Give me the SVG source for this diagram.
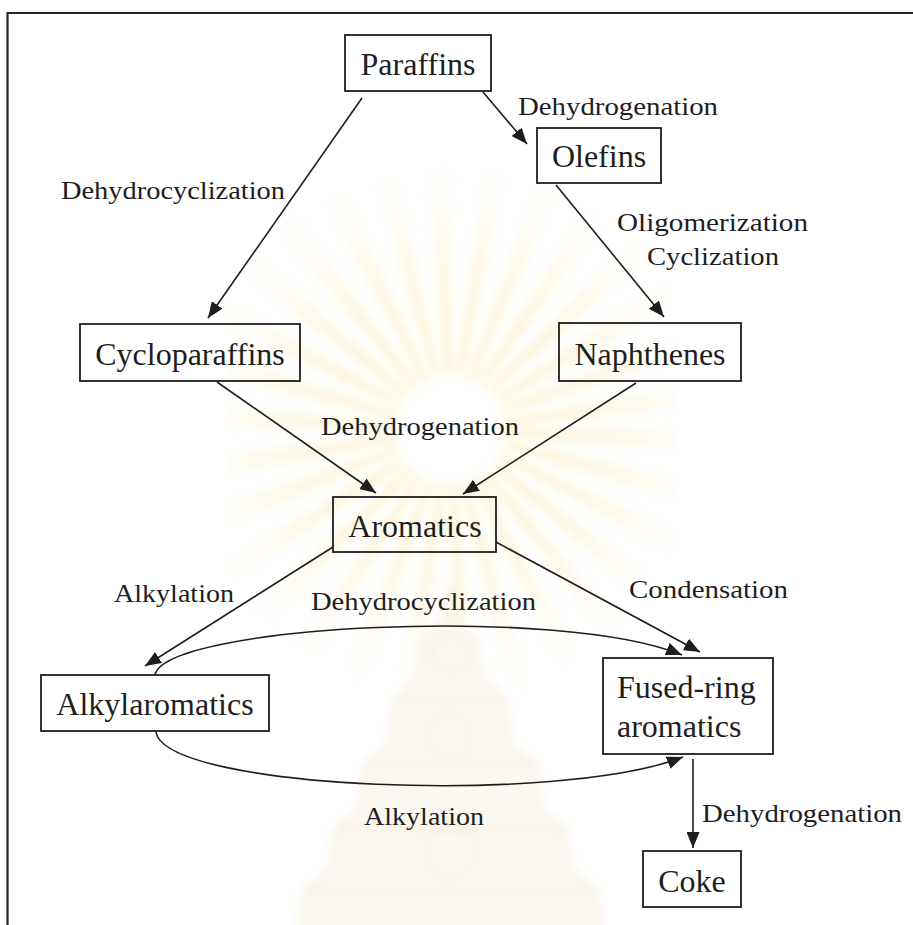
<svg xmlns="http://www.w3.org/2000/svg" width="913" height="925" viewBox="0 0 913 925">
  <defs>
    <style>
      .box{fill:none;stroke:#1e1e1e;stroke-width:1.8}
      .node{font-family:"Liberation Serif","Times New Roman",serif;font-size:32px;fill:#1e1e1e}
      .lbl{font-family:"Liberation Serif","Times New Roman",serif;font-size:26px;fill:#1e1e1e}
      .edge{fill:none;stroke:#1e1e1e;stroke-width:1.6;marker-end:url(#head)}
      .frame{fill:none;stroke:#262626;stroke-width:2.2}
    </style>
    <marker id="head" markerUnits="userSpaceOnUse" markerWidth="17" markerHeight="13" refX="16" refY="6.5" orient="auto">
      <path d="M0,0 L16,6.5 L0,13 z" fill="#1e1e1e"/>
    </marker>
    <radialGradient id="rayFade" gradientUnits="userSpaceOnUse" cx="450" cy="430" r="280">
      <stop offset="0.2" stop-color="#f4dc88" stop-opacity="0.5"/>
      <stop offset="0.6" stop-color="#f6e2a4" stop-opacity="0.28"/>
      <stop offset="1" stop-color="#f8ecc8" stop-opacity="0"/>
    </radialGradient>
    <filter id="soft" x="-20%" y="-20%" width="140%" height="140%">
      <feGaussianBlur stdDeviation="5"/>
    </filter>
  </defs>

  <rect width="913" height="925" fill="#ffffff"/>

  <!-- faint emblem behind the chart -->
  <g id="watermark" filter="url(#soft)">
    <circle cx="450" cy="430" r="160" fill="none" stroke="url(#rayFade)" stroke-width="210" stroke-dasharray="14 19.66"/>
    <path d="M450,585 L457,620 L475,640 L483,680 L505,700 L510,745 L535,765 L540,810 L565,830 L570,870 L595,890 L600,925 L300,925 L305,890 L330,870 L335,830 L360,810 L365,765 L390,745 L395,700 L417,680 L425,640 L443,620 Z"
          fill="#fbf8f1" stroke="#f3e6d6" stroke-width="2.5"/>
    <g fill="none" stroke="#f3e6d6" stroke-width="2.5">
      <path d="M395,700 H505 M365,765 H535 M335,830 H565 M305,890 H595"/>
      <circle cx="450" cy="655" r="18"/>
      <circle cx="450" cy="735" r="22"/>
      <circle cx="450" cy="850" r="26"/>
    </g>
  </g>

  <!-- page frame -->
  <path class="frame" d="M7.5,925 V13 H913"/>

  <g id="connectors">
    <path class="edge" d="M483,92 L527,144"/>
    <path class="edge" d="M362,98 L208,318"/>
    <path class="edge" d="M556,185 L664,317"/>
    <path class="edge" d="M217,382 L376,493"/>
    <path class="edge" d="M636,383 L463,494"/>
    <path class="edge" d="M333,547 L145,666"/>
    <path class="edge" d="M496,542 L700,652"/>
    <path class="edge" d="M155,675 C165,625 560,605 682,655"/>
    <path class="edge" d="M156,732 C165,790 560,805 683,757"/>
    <path class="edge" d="M693,759 L693,848"/>
  </g>

  <g id="edge-labels" class="lbl">
    <text x="518" y="115" textLength="200" lengthAdjust="spacingAndGlyphs">Dehydrogenation</text>
    <text x="61" y="199" textLength="224" lengthAdjust="spacingAndGlyphs">Dehydrocyclization</text>
    <text x="617" y="231" textLength="191" lengthAdjust="spacingAndGlyphs">Oligomerization</text>
    <text x="647" y="265" textLength="132" lengthAdjust="spacingAndGlyphs">Cyclization</text>
    <text x="321" y="435" textLength="198" lengthAdjust="spacingAndGlyphs">Dehydrogenation</text>
    <text x="114" y="602" textLength="120" lengthAdjust="spacingAndGlyphs">Alkylation</text>
    <text x="311" y="610" textLength="225" lengthAdjust="spacingAndGlyphs">Dehydrocyclization</text>
    <text x="629" y="598" textLength="159" lengthAdjust="spacingAndGlyphs">Condensation</text>
    <text x="702" y="822" textLength="200" lengthAdjust="spacingAndGlyphs">Dehydrogenation</text>
    <text x="364" y="825" textLength="120" lengthAdjust="spacingAndGlyphs">Alkylation</text>
  </g>

  <g id="paraffins">
    <rect class="box" x="345" y="35" width="146" height="56"/>
    <text class="node" x="418" y="75" text-anchor="middle">Paraffins</text>
  </g>
  <g id="olefins">
    <rect class="box" x="537" y="128" width="124" height="55"/>
    <text class="node" x="599" y="167" text-anchor="middle">Olefins</text>
  </g>
  <g id="cycloparaffins">
    <rect class="box" x="80" y="324" width="220" height="57"/>
    <text class="node" x="190" y="365" text-anchor="middle">Cycloparaffins</text>
  </g>
  <g id="naphthenes">
    <rect class="box" x="559" y="323" width="182" height="58"/>
    <text class="node" x="650" y="365" text-anchor="middle">Naphthenes</text>
  </g>
  <g id="aromatics">
    <rect class="box" x="333" y="497" width="163" height="55"/>
    <text class="node" x="415" y="537" text-anchor="middle">Aromatics</text>
  </g>
  <g id="alkylaromatics">
    <rect class="box" x="41" y="675" width="228" height="56"/>
    <text class="node" x="155" y="715" text-anchor="middle">Alkylaromatics</text>
  </g>
  <g id="fused-ring-aromatics">
    <rect class="box" x="603" y="658" width="170" height="96"/>
    <text class="node" x="617" y="698">Fused-ring</text>
    <text class="node" x="617" y="737">aromatics</text>
  </g>
  <g id="coke">
    <rect class="box" x="643" y="851" width="98" height="56"/>
    <text class="node" x="692" y="892" text-anchor="middle">Coke</text>
  </g>
</svg>
